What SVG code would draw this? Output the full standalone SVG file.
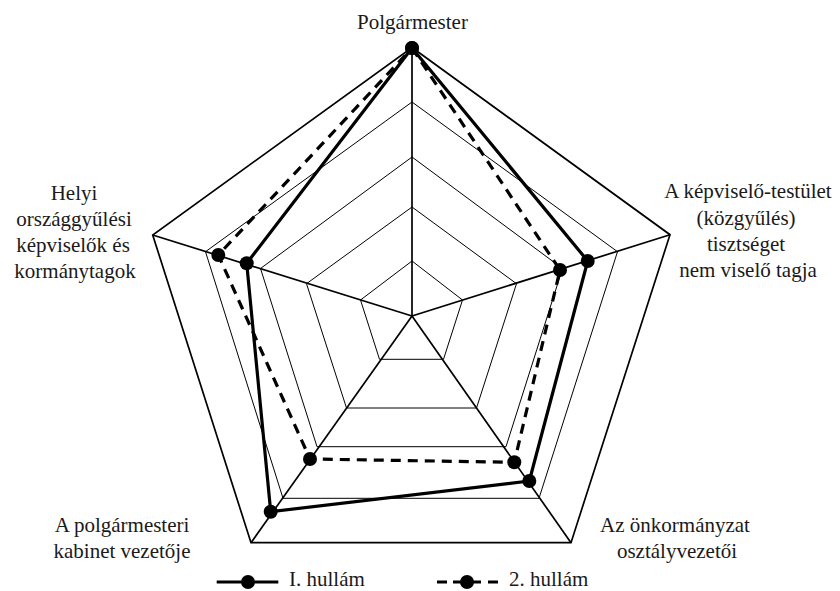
<svg xmlns="http://www.w3.org/2000/svg" width="840" height="591" viewBox="0 0 840 591">
<style>
  .ring{fill:none;stroke:#000;stroke-width:1;stroke-linejoin:miter}
  .outer{fill:none;stroke:#000;stroke-width:1.7;stroke-linejoin:miter}
  .axis{stroke:#000;stroke-width:1.7}
  .s1{fill:none;stroke:#000;stroke-width:3.2;stroke-linejoin:round}
  .s2{fill:none;stroke:#000;stroke-width:3.2;stroke-dasharray:10 7;stroke-linejoin:round}
  .dot{fill:#000}
  .lbl{font-family:'Liberation Serif','Times New Roman',serif;font-size:21px;fill:#1a1a1a}
</style>
<rect width="840" height="591" fill="#fff"/>
<g id="grid">
  <polygon class="ring" points="412,261 462.5,300 443.5,359.3 379.5,359.3 360.5,300"/>
  <polygon class="ring" points="412,207 516.5,283.7 476.5,408 346.5,408 306.5,283.7"/>
  <polygon class="ring" points="412,157 562.5,268.5 506,446.7 317,446.7 260.5,268.5"/>
  <polygon class="ring" points="412,102 617.5,251.7 539,498.3 283,498.3 205.5,251.7"/>
  <polygon class="outer" points="412,47.5 670,234.7 571,542.7 251,542.7 152.7,235"/>
</g>
<g id="axes">
  <line class="axis" x1="412" y1="316" x2="412" y2="47.5"/>
  <line class="axis" x1="412" y1="316" x2="670" y2="234.7"/>
  <line class="axis" x1="412" y1="316" x2="571" y2="542.7"/>
  <line class="axis" x1="412" y1="316" x2="251" y2="542.7"/>
  <line class="axis" x1="412" y1="316" x2="152.7" y2="235"/>
</g>
<g id="connectors">
  <g id="series-1">
    <polygon class="s1" points="412,48 587.7,261 529.3,481 270.7,511.7 246.7,263.3"/>
    <circle class="dot" cx="412" cy="48" r="7"/>
    <circle class="dot" cx="587.7" cy="261" r="7"/>
    <circle class="dot" cx="529.3" cy="481" r="7"/>
    <circle class="dot" cx="270.7" cy="511.7" r="7"/>
    <circle class="dot" cx="246.7" cy="263.3" r="7"/>
  </g>
  <g id="series-2">
    <path class="s2" d="M412,48 L560,270 L514.3,462.3 L310,459 L218.3,255 Z"/>
    <circle class="dot" cx="412" cy="48" r="7"/>
    <circle class="dot" cx="560" cy="270" r="7"/>
    <circle class="dot" cx="514.3" cy="462.3" r="7"/>
    <circle class="dot" cx="310" cy="459" r="7"/>
    <circle class="dot" cx="218.3" cy="255" r="7"/>
  </g>
</g>
<g class="lbl" font-family="Liberation Serif, Times New Roman, serif" font-size="21" fill="#1a1a1a">
<g id="label-top" text-anchor="middle">
  <text x="412.5" y="29">Polgármester</text>
</g>
<g id="label-right" text-anchor="middle">
  <text x="748" y="198">A képviselő-testület</text>
  <text x="746" y="224.5">(közgyűlés)</text>
  <text x="746" y="251">tisztséget</text>
  <text x="748" y="277">nem viselő tagja</text>
</g>
<g id="label-left" text-anchor="middle">
  <text x="74" y="200">Helyi</text>
  <text x="74" y="226">országgyűlési</text>
  <text x="73" y="252">képviselők és</text>
  <text x="75" y="278">kormánytagok</text>
</g>
<g id="label-bottom-left" text-anchor="middle">
  <text x="122" y="532">A polgármesteri</text>
  <text x="122" y="558">kabinet vezetője</text>
</g>
<g id="label-bottom-right" text-anchor="middle">
  <text x="675" y="532">Az önkormányzat</text>
  <text x="677" y="558">osztályvezetői</text>
</g>
<g id="legend">
  <line x1="216.7" y1="582" x2="278.3" y2="582" stroke="#000" stroke-width="3.2"/>
  <circle class="dot" cx="248" cy="582" r="7"/>
  <text x="289" y="586">I. hullám</text>
  <path d="M437,582h10 M453,582h8 M473,582h8 M488,582h10" stroke="#000" stroke-width="3.2" fill="none"/>
  <circle class="dot" cx="467" cy="582" r="7"/>
  <text x="509" y="586">2. hullám</text>
</g>
</g>
</svg>
